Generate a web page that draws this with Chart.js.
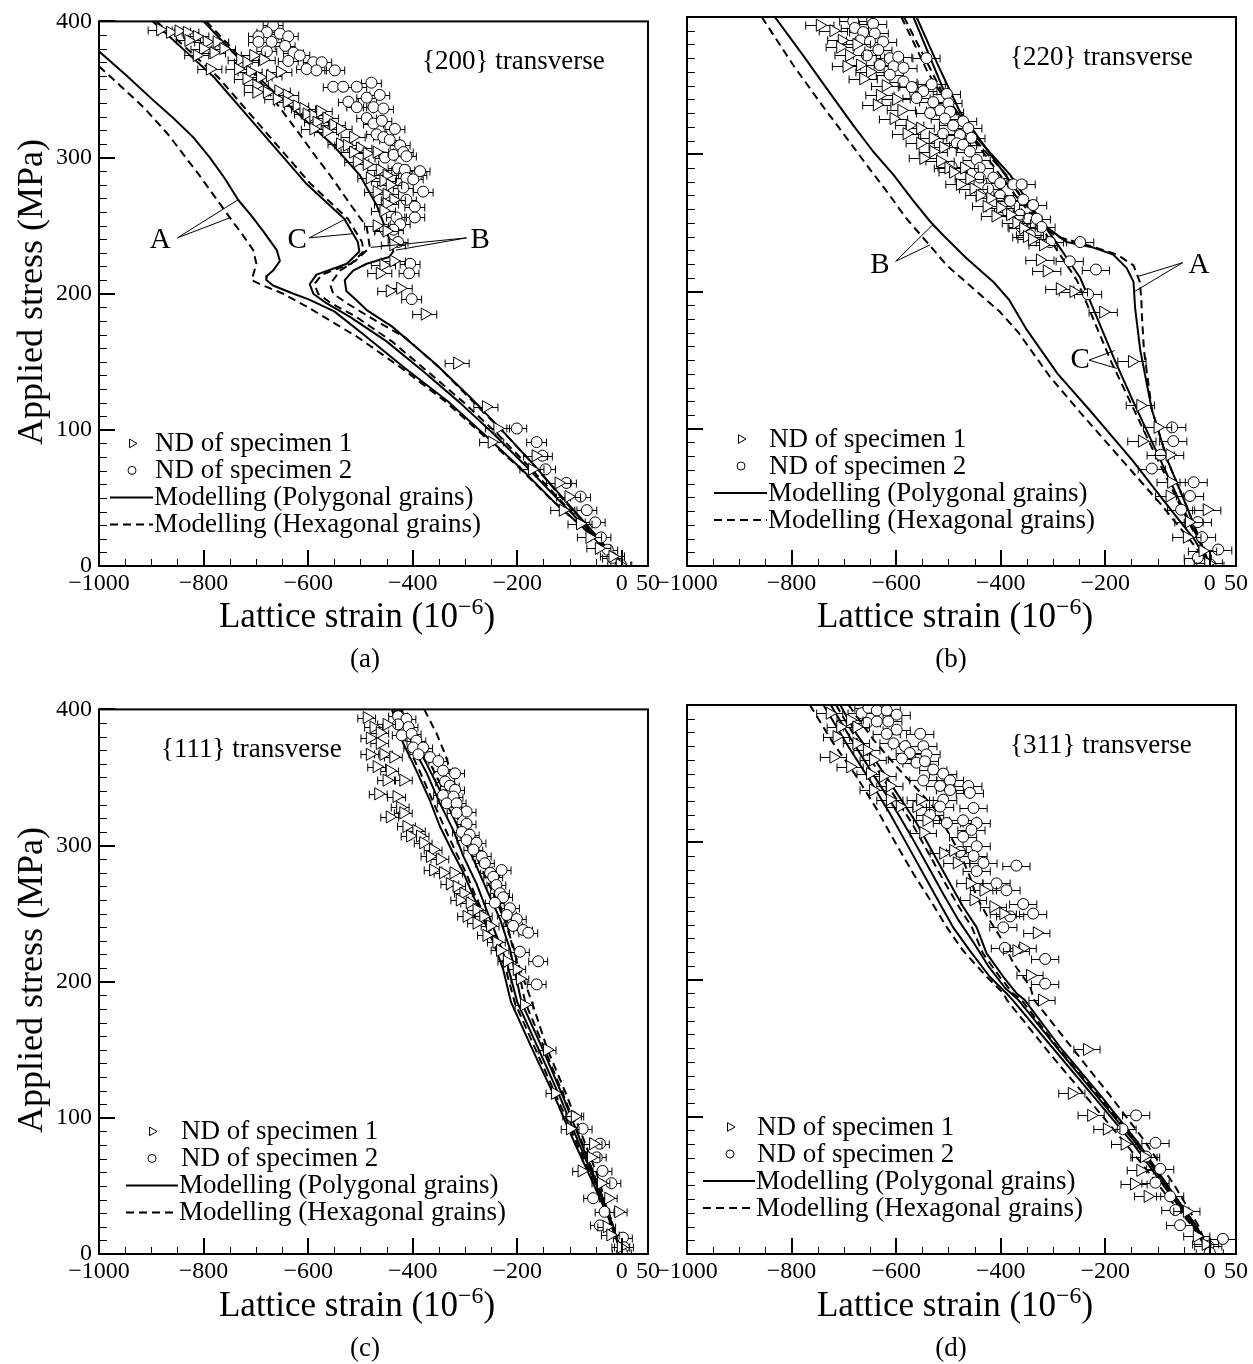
<!DOCTYPE html>
<html>
<head>
<meta charset="utf-8">
<title>Lattice strain vs applied stress</title>
<script src="https://cdn.jsdelivr.net/npm/chart.js@4.4.1/dist/chart.umd.min.js"></script>
<style>
  body { margin: 0; background: #fff; }
  #page { position: relative; width: 1253px; height: 1364px; overflow: hidden;
          font-family: 'Liberation Serif', 'DejaVu Serif', serif; color: #000; }
  #page canvas { position: absolute; }
  .txt { position: absolute; transform: translate(-50%, -50%); white-space: nowrap; }
  .xt { font-size: 35px; }
  .yt { font-size: 36px; transform: translate(-50%, -50%) rotate(-90deg); }
  .cap { font-size: 27px; }
  .sup { font-size: 0.68em; position: relative; top: -0.55em; }
</style>
</head>
<body>
<div id="page">
  <canvas id="pa" width="680" height="600" style="left:0;top:0"></canvas>
  <canvas id="pb" width="613" height="600" style="left:640px;top:0"></canvas>
  <canvas id="pc" width="680" height="600" style="left:0;top:688px"></canvas>
  <canvas id="pd" width="613" height="600" style="left:640px;top:688px"></canvas>

  <div class="txt yt" style="left:30px;top:292px">Applied stress (MPa)</div>
  <div class="txt yt" style="left:30px;top:980px">Applied stress (MPa)</div>
  <div class="txt xt" style="left:357px;top:616px">Lattice strain (10<span class="sup">−6</span>)</div>
  <div class="txt xt" style="left:955px;top:616px">Lattice strain (10<span class="sup">−6</span>)</div>
  <div class="txt xt" style="left:357px;top:1305px">Lattice strain (10<span class="sup">−6</span>)</div>
  <div class="txt xt" style="left:955px;top:1305px">Lattice strain (10<span class="sup">−6</span>)</div>
  <div class="txt cap" style="left:365px;top:658px">(a)</div>
  <div class="txt cap" style="left:951px;top:658px">(b)</div>
  <div class="txt cap" style="left:365px;top:1347px">(c)</div>
  <div class="txt cap" style="left:951px;top:1347px">(d)</div>
</div>

<script>
// ---- axes ----
const xTickValues = [-1000, -800, -600, -400, -200, 0, 50];
const xMajorTicks = [-1000, -800, -600, -400, -200, 0];
const yTickValues = [0, 100, 200, 300, 400];
const xMinorStep = 50;
const yMinorStep = 10;

// ---- (a) {200} transverse : [strain, stress] ----
const a_spec1 = [
  [-883,394],[-864,392],[-848,393],[-832,392],[-813,389],[-829,386],[-794,385],[-775,385],[-801,380],[-781,377],
  [-762,380],[-813,375],[-788,365],[-730,372],[-718,370],[-705,375],[-686,372],[-734,365],[-711,363],[-692,359],
  [-718,358],[-699,353],[-673,360],[-654,363],[-699,348],[-679,348],[-657,349],[-641,346],[-660,343],[-641,341],
  [-622,338],[-609,336],[-603,332],[-590,331],[-577,334],[-584,326],[-565,329],[-552,324],[-590,321],[-565,319],
  [-539,321],[-514,315],[-539,310],[-526,309],[-501,307],[-514,304],[-488,303],[-469,304],[-507,297],[-488,295],
  [-463,291],[-450,287],[-482,285],[-456,283],[-444,280],[-469,275],[-450,273],[-437,269],[-450,266],[-456,261],
  [-469,250],[-450,246],[-437,236],[-437,224],[-456,221],[-463,215],[-444,202],[-424,204],
  [-377,185],[-315,149],[-260,117],[-238,101],[-249,91],[-165,81],[-172,71],[-121,61],[-102,51],[-113,41],
  [-80,31],[-62,21],[-44,13],[-18,7],[-4,1]
];
const a_spec2 = [
  [-667,397],[-679,392],[-695,389],[-654,391],[-638,389],[-695,385],[-670,385],[-644,382],[-679,378],[-628,377],
  [-616,375],[-638,371],[-590,370],[-574,370],[-603,365],[-584,364],[-549,364],[-552,352],[-533,352],[-507,352],
  [-479,355],[-523,341],[-507,337],[-488,344],[-463,346],[-475,337],[-456,336],[-488,329],[-475,325],[-459,327],
  [-434,321],[-469,317],[-456,315],[-444,313],[-424,309],[-453,300],[-437,302],[-418,304],[-412,301],[-428,292],
  [-415,291],[-392,287],[-386,290],[-412,285],[-399,284],[-380,275],[-418,278],[-412,269],[-396,264],[-396,256],
  [-431,256],[-424,251],[-437,247],[-453,247],[-428,238],[-405,222],[-407,215],[-402,196],
  [-201,101],[-163,91],[-152,81],[-146,71],[-106,61],[-79,51],[-67,41],[-51,32],[-40,21],[-27,12],[-18,6],[-2,1]
];
const a_err1 = 23;
const a_err2 = 19;
const a_polyA = [[-1000,378],[-947,360],[-896,342],[-858,329],[-820,315],[-788,300],[-760,285],[-734,269],[-708,257],[-686,246],[-660,232],[-654,224],[-667,217],[-679,213],[-680,210],[-667,206],[-628,200],[-600,196],[-550,187],[-494,170],[-414,145],[-333,121],[-264,97],[-194,72],[-132,48],[-62,24],[0,0]];
const a_hexA  = [[-1000,367],[-960,353],[-915,337],[-870,318],[-810,288],[-750,256],[-725,243],[-705,232],[-699,222],[-708,210],[-692,207],[-648,200],[-600,190],[-505,168],[-420,145],[-338,121],[-268,97],[-196,72],[-133,48],[-62,24],[0,0]];
const a_polyB = [[-800,400],[-743,377],[-679,353],[-616,331],[-552,309],[-501,287],[-469,265],[-450,246],[-437,231],[-445,227],[-488,222],[-514,217],[-530,210],[-527,202],[-507,195],[-488,188],[-440,176],[-355,148],[-290,124],[-230,100],[-170,75],[-113,50],[-55,25],[0,0]];
const a_hexB  = [[-795,400],[-745,380],[-700,360],[-651,335],[-616,317],[-584,300],[-558,287],[-520,266],[-488,249],[-482,234],[-510,224],[-539,217],[-558,207],[-552,200],[-526,193],[-470,180],[-415,168],[-350,146],[-288,122],[-228,99],[-170,75],[-115,50],[-56,25],[0,0]];
const a_polyC = [[-897,400],[-840,380],[-780,359],[-692,320],[-604,281],[-531,255],[-505,238],[-502,231],[-526,222],[-584,214],[-597,207],[-590,200],[-565,193],[-520,183],[-450,165],[-380,143],[-310,120],[-245,97],[-180,72],[-120,48],[-58,24],[0,0]];
const a_hexC  = [[-890,400],[-832,380],[-772,359],[-684,320],[-596,281],[-524,255],[-497,238],[-494,231],[-518,222],[-574,214],[-588,207],[-581,200],[-556,193],[-508,183],[-440,165],[-372,143],[-302,120],[-238,97],[-175,72],[-117,48],[-57,24],[0,0]];
const a_callouts = [
  { text: 'A', at: [-883, 239], from: [-850, 241], to: [[-734, 269], [-748, 256]] },
  { text: 'C', at: [-621, 239], from: [-598, 241], to: [[-528, 255], [-516, 244]] },
  { text: 'B', at: [-271, 239], from: [-297, 241], to: [[-432, 232], [-480, 234]] }
];

// ---- (b) {220} transverse ----
const b_spec1 = [
  [-746,394],[-720,390],[-704,383],[-707,378],[-676,380],[-690,372],[-695,364],[-669,365],[-650,360],[-663,355],
  [-620,350],[-631,343],[-600,340],[-637,336],[-590,332],[-605,326],[-574,321],[-554,319],[-580,315],[-530,312],
  [-554,308],[-510,305],[-529,302],[-548,297],[-516,295],[-500,290],[-470,290],[-491,287],[-460,282],[-478,278],
  [-452,275],[-440,270],[-420,268],[-427,262],[-401,261],[-382,256],[-410,255],[-370,250],[-357,246],[-350,240],
  [-340,238],[-319,234],[-325,223],[-312,215],[-287,202],[-261,200],[-204,185],
  [-149,149],[-133,117],[-100,101],[-130,91],[-77,81],[-74,61],[-77,51],[-6,41],[-40,32],[-44,21],[-14,11],[-3,2]
];
const b_spec2 = [
  [-682,397],[-644,395],[-679,392],[-663,389],[-641,388],[-669,383],[-650,382],[-625,382],[-634,376],[-656,372],
  [-612,370],[-596,371],[-542,370],[-631,365],[-605,364],[-586,363],[-612,358],[-586,353],[-532,351],[-570,349],
  [-548,346],[-503,344],[-561,341],[-529,338],[-500,337],[-516,332],[-497,331],[-535,330],[-507,326],[-472,324],
  [-491,321],[-462,319],[-510,315],[-478,314],[-456,312],[-484,308],[-472,307],[-459,302],[-446,296],[-494,291],
  [-440,290],[-414,283],[-440,283],[-401,279],[-424,275],[-376,278],[-360,278],[-401,270],[-382,266],[-357,267],
  [-338,263],[-386,258],[-363,256],[-347,253],[-331,253],[-360,247],[-322,247],[-344,241],[-306,236],[-248,236],
  [-268,222],[-218,216],[-233,198],
  [-72,101],[-70,91],[-94,81],[-111,71],[-31,61],[-38,51],[-55,41],[-23,32],[-15,21],[16,12],[-23,6],[1,1]
];
const b_err1 = 27;
const b_err2 = 26;
const b_polyA = [[-561,400],[-520,365],[-478,331],[-414,297],[-363,270],[-319,249],[-274,236],[-223,232],[-185,227],[-159,217],[-146,207],[-143,188],[-133,157],[-111,114],[-81,77],[-44,43],[-14,14],[0,0]];
const b_hexA  = [[-590,400],[-561,377],[-540,360],[-490,330],[-425,297],[-372,270],[-328,250],[-293,240],[-236,234],[-178,227],[-146,219],[-134,207],[-131,194],[-130,183],[-126,157],[-111,114],[-81,77],[-44,43],[-14,14],[0,0]];
const b_polyB = [[-832,400],[-778,372],[-733,348],[-682,321],[-644,302],[-605,285],[-567,266],[-535,251],[-510,241],[-465,224],[-414,207],[-384,194],[-350,172],[-291,140],[-231,114],[-148,77],[-89,48],[-29,19],[0,0]];
const b_hexB  = [[-857,400],[-797,365],[-746,338],[-695,312],[-656,292],[-618,273],[-580,253],[-548,239],[-503,219],[-452,202],[-401,185],[-366,170],[-306,138],[-246,111],[-163,75],[-96,46],[-36,18],[0,0]];
const b_polyC = [[-567,400],[-503,341],[-446,312],[-382,285],[-331,256],[-287,232],[-248,210],[-228,192],[-182,150],[-148,121],[-104,85],[-59,48],[-21,19],[0,0]];
const b_hexC  = [[-585,400],[-545,370],[-505,340],[-448,310],[-385,283],[-335,254],[-292,230],[-254,208],[-234,190],[-190,150],[-154,121],[-108,84],[-62,48],[-23,19],[0,0]];
const b_callouts = [
  { text: 'B', at: [-631, 219], from: [-601, 222], to: [[-529, 249], [-535, 234]] },
  { text: 'A', at: [-21, 219], from: [-52, 221], to: [[-137, 211], [-144, 200]] },
  { text: 'C', at: [-248, 150], from: [-231, 150], to: [[-182, 157], [-178, 144]] }
];

// ---- (c) {111} transverse ----
const c_spec1 = [
  [-488,394],[-475,387],[-482,379],[-463,383],[-450,389],[-463,375],[-482,367],[-456,367],[-437,365],[-469,358],
  [-444,355],[-450,348],[-418,348],[-466,338],[-431,336],[-424,328],[-444,321],[-418,324],[-412,314],[-393,311],
  [-405,307],[-386,307],[-380,302],[-361,297],[-367,292],[-348,290],[-361,282],[-342,280],[-322,280],[-329,272],
  [-316,270],[-303,265],[-310,260],[-291,258],[-278,253],[-297,248],[-265,248],[-278,243],[-252,241],[-259,234],
  [-240,229],[-233,223],[-220,215],[-201,209],[-195,202],
  [-187,183],[-143,150],[-128,118],[-90,101],[-99,92],[-55,81],[-59,71],[-77,61],[-40,52],[-26,41],[-7,31],
  [-29,20],[-22,14],[-2,5]
];
const c_spec2 = [
  [-428,395],[-412,393],[-428,389],[-408,387],[-421,381],[-402,382],[-393,377],[-399,372],[-380,372],[-389,367],
  [-367,365],[-351,362],[-342,355],[-319,353],[-338,347],[-329,344],[-319,341],[-342,337],[-322,336],[-335,331],
  [-316,331],[-297,325],[-316,324],[-297,316],[-306,310],[-291,308],[-297,304],[-278,302],[-284,297],[-268,292],
  [-262,287],[-252,280],[-230,282],[-246,277],[-240,271],[-233,265],[-227,262],[-243,258],[-214,254],[-220,249],
  [-201,246],[-208,241],[-189,238],[-179,236],[-195,222],[-160,215],[-163,198],
  [-95,101],[-75,92],[-42,81],[-48,71],[-37,61],[-20,52],[-55,41],[-33,31],[-42,21],[2,12],[4,5],[0,1]
];
const c_err1 = 17;
const c_err2 = 18;
const c_poly1 = [[-440,400],[-418,375],[-393,355],[-367,333],[-348,314],[-322,294],[-303,280],[-284,263],[-265,246],[-246,229],[-227,209],[-212,185],[-172,151],[-128,115],[-92,83],[-55,52],[-26,27],[0,0]];
const c_poly2 = [[-421,400],[-399,372],[-373,353],[-348,331],[-322,311],[-303,292],[-278,272],[-259,253],[-240,234],[-220,214],[-200,185],[-160,151],[-118,115],[-84,83],[-50,52],[-24,27],[0,0]];
const c_poly3 = [[-431,400],[-396,377],[-367,355],[-338,333],[-310,311],[-284,290],[-259,268],[-233,246],[-214,224],[-192,185],[-152,151],[-112,115],[-80,84],[-48,52],[-23,27],[0,0]];
const c_hex1  = [[-378,400],[-354,382],[-338,367],[-322,348],[-303,324],[-284,307],[-259,282],[-240,263],[-220,243],[-208,224],[-188,202],[-172,185],[-143,151],[-106,117],[-77,88],[-48,59],[-22,27],[0,0]];
const c_hex2  = [[-425,400],[-388,377],[-360,355],[-331,333],[-302,311],[-276,290],[-250,268],[-225,246],[-206,224],[-185,185],[-148,151],[-110,115],[-78,84],[-47,52],[-22,27],[0,0]];
const c_hex3  = [[-436,400],[-412,375],[-387,355],[-362,333],[-340,314],[-316,294],[-298,280],[-280,263],[-260,246],[-241,229],[-222,209],[-205,185],[-166,151],[-124,115],[-88,83],[-52,52],[-25,27],[0,0]];

// ---- (d) {311} transverse ----
const d_spec1 = [
  [-727,394],[-688,389],[-707,384],[-676,384],[-714,377],[-720,362],[-676,372],[-656,367],[-688,355],[-644,360],
  [-650,350],[-625,348],[-644,338],[-612,341],[-612,331],[-593,326],[-561,326],[-554,331],[-542,316],[-548,307],
  [-510,292],[-491,294],[-484,285],[-459,270],[-433,265],[-452,258],[-414,253],[-395,248],[-331,234],[-357,223],
  [-370,221],[-344,203],
  [-321,185],[-235,149],[-264,117],[-227,101],[-197,91],[-163,80],[-126,71],[-133,61],[-145,51],[-119,42],
  [-44,31],[-25,13],[-8,7]
];
const d_spec2 = [
  [-666,394],[-653,398],[-637,396],[-618,396],[-599,393],[-656,387],[-637,388],[-615,388],[-599,382],[-618,379],
  [-554,379],[-605,372],[-583,370],[-574,365],[-548,370],[-542,364],[-589,361],[-561,358],[-545,359],[-529,353],
  [-510,350],[-497,345],[-548,345],[-516,341],[-497,338],[-462,341],[-459,336],[-510,331],[-452,325],[-516,326],
  [-535,320],[-472,316],[-503,314],[-446,314],[-456,309],[-472,304],[-446,297],[-478,293],[-452,290],[-433,285],
  [-446,279],[-370,283],[-408,270],[-389,265],[-357,255],[-338,248],[-382,246],[-395,238],[-392,223],[-315,215],
  [-315,197],
  [-141,101],[-167,91],[-104,81],[-122,71],[-95,62],[-104,52],[-76,42],[-66,32],[-57,21],[25,11],[-3,6],[0,1]
];
const d_err1 = 25;
const d_err2 = 26;
const d_poly1 = [[-739,400],[-695,372],[-650,345],[-612,321],[-580,299],[-548,277],[-516,255],[-491,238],[-459,221],[-421,202],[-389,190],[-377,185],[-298,149],[-223,115],[-148,81],[-77,44],[-29,19],[0,0]];
const d_poly2 = [[-707,400],[-676,379],[-637,358],[-599,336],[-561,314],[-529,292],[-497,270],[-472,253],[-446,238],[-427,219],[-395,202],[-370,190],[-354,185],[-283,149],[-208,115],[-137,81],[-70,44],[-25,20],[0,0]];
const d_poly3 = [[-725,400],[-686,375],[-645,350],[-606,327],[-572,305],[-540,283],[-508,261],[-482,244],[-452,227],[-424,210],[-392,194],[-366,185],[-290,149],[-216,115],[-142,81],[-73,44],[-27,19],[0,0]];
const d_hex1  = [[-765,400],[-720,372],[-676,348],[-637,324],[-605,302],[-567,277],[-535,258],[-503,238],[-472,221],[-427,202],[-395,190],[-388,185],[-306,146],[-231,112],[-156,78],[-81,42],[-29,18],[0,0]];
const d_hex2  = [[-691,400],[-644,375],[-599,355],[-529,326],[-503,309],[-478,292],[-459,275],[-446,260],[-421,243],[-401,231],[-376,212],[-344,195],[-336,185],[-261,149],[-190,115],[-126,83],[-66,49],[-21,20],[0,0]];
const d_hex3  = [[-715,400],[-682,379],[-645,358],[-607,336],[-570,314],[-538,292],[-506,270],[-480,253],[-455,238],[-434,219],[-402,202],[-377,190],[-360,185],[-288,149],[-212,115],[-140,81],[-72,44],[-26,20],[0,0]];

Chart.defaults.font.family = "'Liberation Serif', 'DejaVu Serif', serif";
Chart.defaults.color = '#000';

const toPoints = list => list.map(p => ({ x: p[0], y: p[1] }));

function markerSet(label, list, style, radius, err) {
  return {
    label, data: toPoints(list), errX: err,
    pointStyle: style, rotation: style === 'triangle' ? 90 : 0,
    pointRadius: radius, pointBackgroundColor: '#fff',
    pointBorderColor: '#000', pointBorderWidth: 1, showLine: false
  };
}

function curveSet(label, list, dashed) {
  return {
    label, data: toPoints(list), showLine: true, pointRadius: 0,
    borderColor: '#000', borderWidth: 2, borderDash: dashed ? [8, 5] : [],
    tension: 0, fill: false, borderJoinStyle: 'round'
  };
}

// horizontal error bars, drawn just under each marker set
const errorBars = {
  id: 'errorBars',
  beforeDatasetDraw(chart, args) {
    const ds = chart.data.datasets[args.index];
    if (!ds.errX) return;
    const { ctx, chartArea: a, scales: { x, y } } = chart;
    ctx.save();
    ctx.beginPath();
    ctx.rect(a.left, a.top, a.width, a.height);
    ctx.clip();
    ctx.strokeStyle = '#000';
    ctx.lineWidth = 1;
    ctx.beginPath();
    ds.data.forEach(p => {
      const py = Math.round(y.getPixelForValue(p.y)) + 0.5;
      const x1 = x.getPixelForValue(p.x - ds.errX);
      const x2 = x.getPixelForValue(p.x + ds.errX);
      ctx.moveTo(x1, py); ctx.lineTo(x2, py);
      ctx.moveTo(x1, py - 4); ctx.lineTo(x1, py + 4);
      ctx.moveTo(x2, py - 4); ctx.lineTo(x2, py + 4);
    });
    ctx.stroke();
    ctx.restore();
  }
};

// frame, inward ticks, panel title, callouts and legend
const decor = {
  id: 'decor',
  afterDatasetsDraw(chart, args, opts) {
    const { ctx, chartArea: a, scales: { x, y } } = chart;
    ctx.save();
    ctx.strokeStyle = '#000';
    ctx.fillStyle = '#000';

    // minor ticks
    ctx.lineWidth = 1;
    ctx.beginPath();
    for (let v = x.min; v <= x.max; v += xMinorStep) {
      if (xMajorTicks.includes(v)) continue;
      const px = Math.round(x.getPixelForValue(v)) + 0.5;
      ctx.moveTo(px, a.bottom); ctx.lineTo(px, a.bottom - 7);
    }
    for (let v = y.min; v <= y.max; v += yMinorStep) {
      if (v % 100 === 0) continue;
      const py = Math.round(y.getPixelForValue(v)) + 0.5;
      ctx.moveTo(a.left, py); ctx.lineTo(a.left + 8, py);
    }
    ctx.stroke();

    // major ticks
    ctx.lineWidth = 2;
    ctx.beginPath();
    xMajorTicks.forEach(v => {
      const px = Math.round(x.getPixelForValue(v));
      ctx.moveTo(px, a.bottom); ctx.lineTo(px, a.bottom - 16);
    });
    yTickValues.forEach(v => {
      const py = Math.round(y.getPixelForValue(v));
      ctx.moveTo(a.left, py); ctx.lineTo(a.left + 16, py);
    });
    ctx.stroke();

    // frame
    ctx.lineWidth = 2;
    ctx.strokeRect(a.left, a.top, a.width, a.height);

    // panel title
    ctx.font = "27px 'Liberation Serif', serif";
    ctx.textBaseline = 'middle';
    ctx.textAlign = 'left';
    ctx.fillText(opts.title, a.left + opts.titleX, a.top + opts.titleY);

    // callouts
    (opts.callouts || []).forEach(c => {
      ctx.font = "29px 'Liberation Serif', serif";
      ctx.textAlign = 'center';
      ctx.fillText(c.text, x.getPixelForValue(c.at[0]), y.getPixelForValue(c.at[1]));
      ctx.lineWidth = 1;
      ctx.beginPath();
      c.to.forEach(t => {
        ctx.moveTo(x.getPixelForValue(c.from[0]), y.getPixelForValue(c.from[1]));
        ctx.lineTo(x.getPixelForValue(t[0]), y.getPixelForValue(t[1]));
      });
      ctx.stroke();
    });

    // legend
    const lg = opts.legend;
    ctx.font = "27px 'Liberation Serif', serif";
    ctx.textAlign = 'left';
    lg.rows.forEach((dsIndex, i) => {
      const ds = chart.data.datasets[dsIndex];
      const ly = a.top + lg.rowY[i];
      if (ds.showLine) {
        ctx.lineWidth = 2;
        ctx.setLineDash(ds.borderDash);
        ctx.beginPath();
        ctx.moveTo(a.left + lg.line0, ly);
        ctx.lineTo(a.left + lg.line1, ly);
        ctx.stroke();
        ctx.setLineDash([]);
      } else {
        ctx.fillStyle = '#fff';
        ctx.lineWidth = 1;
        Chart.helpers.drawPoint(ctx, {
          pointStyle: ds.pointStyle, rotation: ds.rotation,
          radius: ds.pointStyle === 'triangle' ? 5 : 4, borderWidth: 1
        }, a.left + lg.markerX, ly);
        ctx.fillStyle = '#000';
      }
      const tx = ds.showLine ? lg.line1 + 1 : lg.textX;
      ctx.fillText(ds.label, a.left + tx, ly + 1);
    });
    ctx.restore();
  }
};

function makePanel(id, p) {
  const datasets = [
    markerSet('ND of specimen 1', p.spec1, 'triangle', 7, p.err1),
    markerSet('ND of specimen 2', p.spec2, 'circle', 5.5, p.err2)
  ];
  p.poly.forEach(c => datasets.push(curveSet('Modelling (Polygonal grains)', c, false)));
  p.hex.forEach(c => datasets.push(curveSet('Modelling (Hexagonal grains)', c, true)));
  const legendRows = [0, 1, 2, 2 + p.poly.length];

  new Chart(document.getElementById(id), {
    type: 'scatter',
    data: { datasets },
    options: {
      responsive: false,
      animation: false,
      events: [],
      layout: { padding: { top: 17, right: p.padRight, left: 0, bottom: 0 } },
      scales: {
        x: {
          type: 'linear', min: -1000, max: 50,
          afterBuildTicks: s => { s.ticks = xTickValues.map(v => ({ value: v })); },
          afterFit: s => { s.height = 34; },
          grid: { display: false, drawTicks: false },
          border: { display: false },
          ticks: {
            autoSkip: false, maxRotation: 0, padding: 3,
            font: { size: 24 }, color: '#000',
            callback: v => (v < 0 ? '\u2212' + (-v) : String(v))
          }
        },
        y: {
          type: 'linear', min: 0, max: 400,
          afterBuildTicks: s => { s.ticks = yTickValues.map(v => ({ value: v })); },
          afterFit: s => { s.width = p.yWidth; },
          grid: { display: false, drawTicks: false },
          border: { display: false },
          ticks: { display: p.yLabels, padding: 7, font: { size: 24 }, color: '#000' }
        }
      },
      plugins: {
        legend: { display: false },
        tooltip: { enabled: false },
        decor: {
          title: p.title, titleX: p.titleX, titleY: 41,
          callouts: p.callouts,
          legend: Object.assign({ rows: legendRows, rowY: [422, 449, 476, 503] }, p.legend)
        }
      }
    },
    plugins: [errorBars, decor]
  });
}

makePanel('pa', {
  spec1: a_spec1, spec2: a_spec2, err1: a_err1, err2: a_err2,
  poly: [a_polyA, a_polyB, a_polyC], hex: [a_hexA, a_hexB, a_hexC],
  callouts: a_callouts, title: '{200} transverse', titleX: 323,
  yWidth: 99, yLabels: true, padRight: 32,
  legend: { markerX: 33, textX: 56, line0: 11, line1: 54 }
});
makePanel('pb', {
  spec1: b_spec1, spec2: b_spec2, err1: b_err1, err2: b_err2,
  poly: [b_polyA, b_polyB, b_polyC], hex: [b_hexA, b_hexB, b_hexC],
  callouts: b_callouts, title: '{220} transverse', titleX: 323,
  yWidth: 47, yLabels: false, padRight: 17,
  legend: { markerX: 54, textX: 82, line0: 27, line1: 80 }
});
makePanel('pc', {
  spec1: c_spec1, spec2: c_spec2, err1: c_err1, err2: c_err2,
  poly: [c_poly1, c_poly2, c_poly3], hex: [c_hex1, c_hex2, c_hex3],
  callouts: [], title: '{111} transverse', titleX: 62,
  yWidth: 99, yLabels: true, padRight: 32,
  legend: { markerX: 53, textX: 82, line0: 27, line1: 79 }
});
makePanel('pd', {
  spec1: d_spec1, spec2: d_spec2, err1: d_err1, err2: d_err2,
  poly: [d_poly1, d_poly2, d_poly3], hex: [d_hex1, d_hex2, d_hex3],
  callouts: [], title: '{311} transverse', titleX: 323,
  yWidth: 47, yLabels: false, padRight: 17,
  legend: { markerX: 43, textX: 70, line0: 16, line1: 68 }
});
</script>
</body>
</html>
